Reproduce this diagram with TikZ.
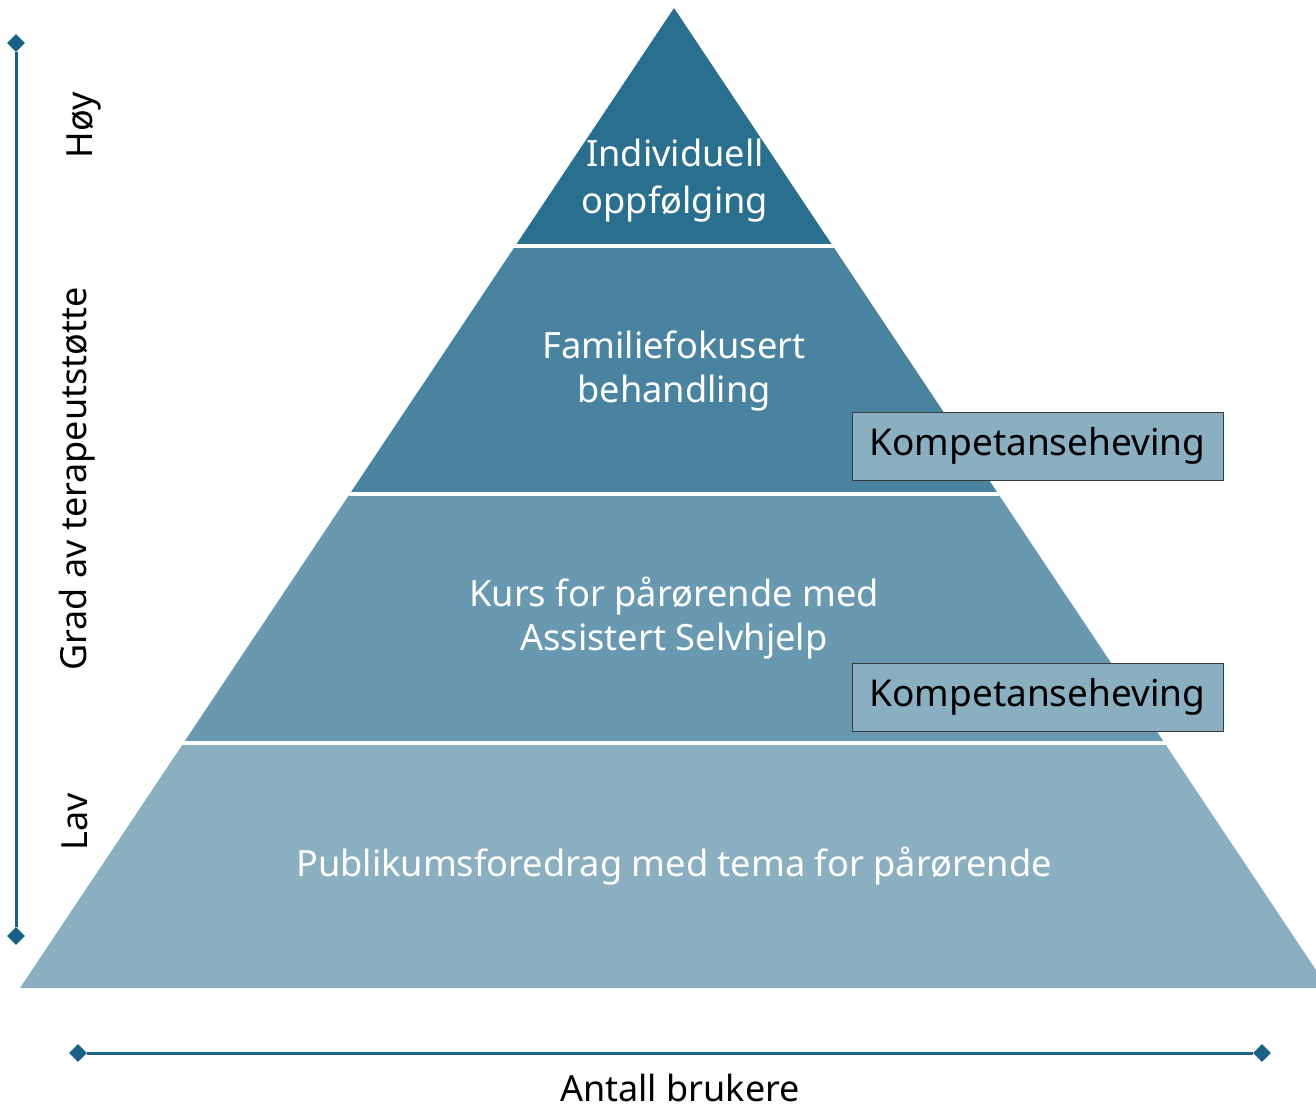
\documentclass[tikz,border=0pt]{standalone}
\usepackage{fontspec}
\setmainfont{Noto Sans}
\usetikzlibrary{shapes.geometric}
\definecolor{tierA}{HTML}{2A6F8E}
\definecolor{tierB}{HTML}{4A83A0}
\definecolor{tierC}{HTML}{6999B1}
\definecolor{tierD}{HTML}{8AAFC1}
\definecolor{axiscol}{HTML}{1B6186}
\definecolor{boxline}{HTML}{3A3A3A}
\tikzset{
  tiertext/.style={text=white, align=center, inner sep=0pt, font=\fontsize{36.2}{44}\selectfont},
  kbox/.style={draw=boxline, line width=1pt, fill=tierD, minimum width=371pt, minimum height=68pt, inner sep=0pt, text=black, font=\fontsize{37}{44}\selectfont},
  dia/.style={diamond, fill=axiscol, minimum width=18pt, minimum height=18pt, inner sep=0pt},
  axisline/.style={draw=axiscol, line width=3pt},
  axlabel/.style={text=black, inner sep=0pt, font=\fontsize{36}{44}\selectfont},
  sep/.style={draw=white, line width=4pt}
}
\begin{document}
\begin{tikzpicture}[x=1pt, y=-1pt]
\useasboundingbox (0,0) rectangle (1316,1110);
\begin{scope}
  \clip (674,8) -- (20,988) -- (1328,988) -- cycle;
  \fill[tierA] (0,0) rectangle (1316,246);
  \fill[tierB] (0,246) rectangle (1316,494);
  \fill[tierC] (0,494) rectangle (1316,743);
  \fill[tierD] (0,743) rectangle (1316,988);
  \draw[sep] (0,246) -- (1316,246);
  \draw[sep] (0,493.5) -- (1316,493.5);
  \draw[sep] (0,742.5) -- (1316,742.5);
\end{scope}
\node[tiertext, font=\fontsize{36.2}{47}\selectfont] (t1) at (675,181) {Individuell\\oppfølging};
\node[tiertext] (t2) at (674,371) {Familiefokusert\\behandling};
\node[tiertext] (t3) at (674,618) {Kurs for pårørende med\\Assistert Selvhjelp};
\node[tiertext, anchor=base] (t4) at (674,876) {Publikumsforedrag med tema for pårørende};
\node[kbox] (k1) at (1037.5,446) {Kompetanseheving};
\node[kbox] (k2) at (1037.5,697) {Kompetanseheving};
\node[dia] (v1) at (16,43) {};
\node[dia] (v2) at (16,936) {};
\draw[axisline] (v1) -- (v2);
\node[dia] (h1) at (78,1053) {};
\node[dia] (h2) at (1262,1053) {};
\draw[axisline] (h1) -- (h2);
\node[axlabel, rotate=90, anchor=base] (hoy) at (92,125) {Høy};
\node[axlabel, rotate=90, anchor=base] (grad) at (86,479) {Grad av terapeutstøtte};
\node[axlabel, rotate=90, anchor=base] (lav) at (87,822) {Lav};
\node[axlabel, anchor=base] (antall) at (680,1101) {Antall brukere};
\end{tikzpicture}
\end{document}
